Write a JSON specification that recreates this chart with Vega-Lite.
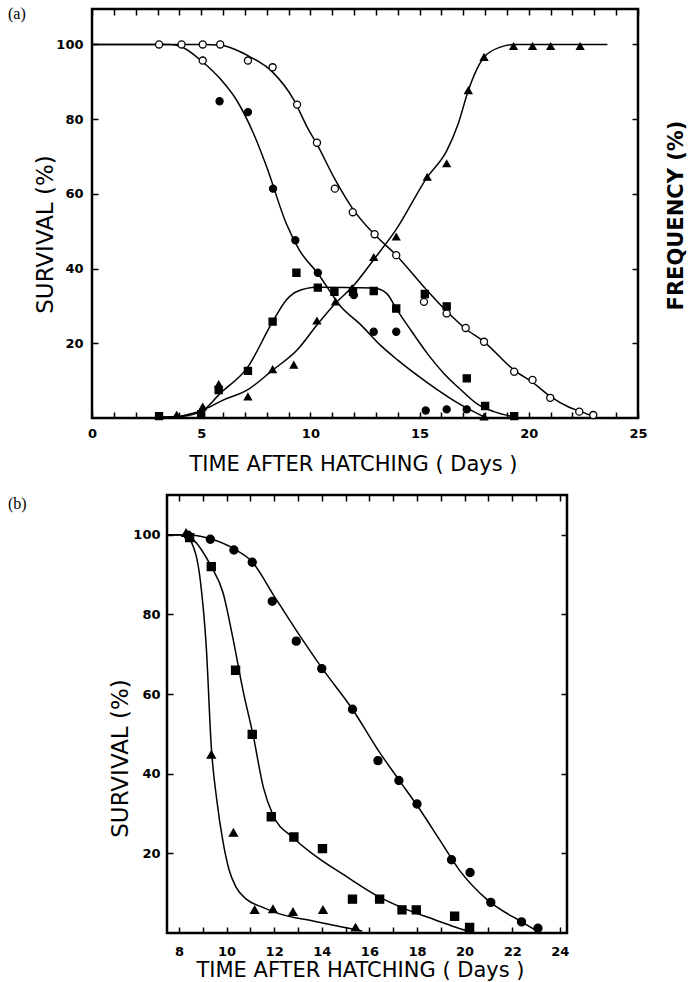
{
  "$schema": "https://vega.github.io/schema/vega-lite/v6.json",
  "padding": {"left": 6, "top": 5, "right": 0, "bottom": 0},
  "config": {
    "view": {"stroke": "black", "strokeWidth": 2.5},
    "font": "DejaVu Sans",
    "axis": {
      "domain": false, "grid": false, "tickColor": "black", "tickWidth": 1.5, "tickSize": -6,
      "labelFont": "DejaVu Sans", "labelFontSize": 13, "labelFontWeight": "bold", "labelColor": "black",
      "labelFlush": false, "labelOverlap": false,
      "titleFont": "DejaVu Sans", "titleFontWeight": "normal", "titleColor": "black", "titleBaseline": "alphabetic", "titleAlign": "center"
    }
  },
  "datasets": {
    "pointsA": [
      {"s": "open", "day": 3.07, "v": 100}, {"s": "open", "day": 4.1, "v": 100}, {"s": "open", "day": 5.07, "v": 100}, {"s": "open", "day": 5.87, "v": 100},
      {"s": "open", "day": 5.07, "v": 95.7}, {"s": "open", "day": 7.14, "v": 95.7}, {"s": "open", "day": 8.27, "v": 93.9}, {"s": "open", "day": 9.39, "v": 83.9},
      {"s": "open", "day": 10.3, "v": 73.7}, {"s": "open", "day": 11.12, "v": 61.4}, {"s": "open", "day": 11.94, "v": 55.1}, {"s": "open", "day": 12.94, "v": 49.2},
      {"s": "open", "day": 13.93, "v": 43.6}, {"s": "open", "day": 15.2, "v": 31.1}, {"s": "open", "day": 16.24, "v": 28}, {"s": "open", "day": 17.11, "v": 24.1},
      {"s": "open", "day": 17.95, "v": 20.4}, {"s": "open", "day": 19.33, "v": 12.4}, {"s": "open", "day": 20.17, "v": 10.2}, {"s": "open", "day": 20.98, "v": 5.4},
      {"s": "open", "day": 22.31, "v": 1.7}, {"s": "open", "day": 22.95, "v": 0.8},
      {"s": "filled", "day": 5.84, "v": 84.8}, {"s": "filled", "day": 7.14, "v": 81.9}, {"s": "filled", "day": 8.29, "v": 61.4}, {"s": "filled", "day": 9.31, "v": 47.6},
      {"s": "filled", "day": 10.34, "v": 38.9}, {"s": "filled", "day": 11.99, "v": 32.9}, {"s": "filled", "day": 12.9, "v": 23.1}, {"s": "filled", "day": 13.93, "v": 23.1},
      {"s": "filled", "day": 15.28, "v": 2.0}, {"s": "filled", "day": 16.24, "v": 2.3}, {"s": "filled", "day": 17.16, "v": 2.3},
      {"s": "square", "day": 3.07, "v": 0.5}, {"s": "square", "day": 5.0, "v": 1.0}, {"s": "square", "day": 5.8, "v": 7.5}, {"s": "square", "day": 7.14, "v": 12.6},
      {"s": "square", "day": 8.27, "v": 25.8}, {"s": "square", "day": 9.36, "v": 38.9}, {"s": "square", "day": 10.34, "v": 34.9}, {"s": "square", "day": 11.1, "v": 33.8},
      {"s": "square", "day": 11.95, "v": 33.8}, {"s": "square", "day": 12.9, "v": 34}, {"s": "square", "day": 13.93, "v": 29.3}, {"s": "square", "day": 15.24, "v": 33.2},
      {"s": "square", "day": 16.24, "v": 29.9}, {"s": "square", "day": 17.16, "v": 10.6}, {"s": "square", "day": 18.0, "v": 3.2}, {"s": "square", "day": 19.33, "v": 0.5},
      {"s": "triangle", "day": 3.88, "v": 0.8}, {"s": "triangle", "day": 5.07, "v": 3}, {"s": "triangle", "day": 5.8, "v": 9}, {"s": "triangle", "day": 7.14, "v": 5.7},
      {"s": "triangle", "day": 8.27, "v": 13}, {"s": "triangle", "day": 9.24, "v": 14.2}, {"s": "triangle", "day": 10.3, "v": 26}, {"s": "triangle", "day": 11.15, "v": 31.1},
      {"s": "triangle", "day": 11.91, "v": 34.7}, {"s": "triangle", "day": 12.9, "v": 43}, {"s": "triangle", "day": 13.93, "v": 48.5}, {"s": "triangle", "day": 15.35, "v": 64.5},
      {"s": "triangle", "day": 16.24, "v": 68.1}, {"s": "triangle", "day": 17.23, "v": 87.7}, {"s": "triangle", "day": 17.95, "v": 96.6}, {"s": "triangle", "day": 17.95, "v": 0.3},
      {"s": "triangle", "day": 19.3, "v": 99.5}, {"s": "triangle", "day": 20.17, "v": 99.5}, {"s": "triangle", "day": 21.0, "v": 99.5}, {"s": "triangle", "day": 22.35, "v": 99.5}
    ],
    "curvesA": [
      {"s": "open", "day": 0, "v": 100}, {"s": "open", "day": 3, "v": 100}, {"s": "open", "day": 5, "v": 100}, {"s": "open", "day": 5.9, "v": 99.8},
      {"s": "open", "day": 6.5, "v": 98.8}, {"s": "open", "day": 7.14, "v": 97}, {"s": "open", "day": 8.27, "v": 92.6}, {"s": "open", "day": 9.24, "v": 85.2},
      {"s": "open", "day": 9.85, "v": 77.9}, {"s": "open", "day": 10.3, "v": 73.3}, {"s": "open", "day": 11.07, "v": 64.5}, {"s": "open", "day": 11.99, "v": 55.6},
      {"s": "open", "day": 12.94, "v": 49.1}, {"s": "open", "day": 13.93, "v": 43.6}, {"s": "open", "day": 15.2, "v": 35.1}, {"s": "open", "day": 16.24, "v": 28.6},
      {"s": "open", "day": 17.11, "v": 23.9}, {"s": "open", "day": 17.95, "v": 20.4}, {"s": "open", "day": 19.33, "v": 12.8}, {"s": "open", "day": 20.25, "v": 9.2},
      {"s": "open", "day": 21.0, "v": 5.7}, {"s": "open", "day": 21.8, "v": 3.0}, {"s": "open", "day": 22.4, "v": 1.7}, {"s": "open", "day": 23.0, "v": 0.3},
      {"s": "filled", "day": 0, "v": 100}, {"s": "filled", "day": 3.5, "v": 100}, {"s": "filled", "day": 4.0, "v": 99.6}, {"s": "filled", "day": 5.07, "v": 95.3},
      {"s": "filled", "day": 5.87, "v": 90.8}, {"s": "filled", "day": 6.63, "v": 85}, {"s": "filled", "day": 7.4, "v": 76.1}, {"s": "filled", "day": 8.0, "v": 67.2},
      {"s": "filled", "day": 8.9, "v": 52}, {"s": "filled", "day": 9.5, "v": 44.9}, {"s": "filled", "day": 10.34, "v": 38.7}, {"s": "filled", "day": 11.4, "v": 29.8},
      {"s": "filled", "day": 12.3, "v": 25}, {"s": "filled", "day": 13.2, "v": 19.5}, {"s": "filled", "day": 14.0, "v": 15.5}, {"s": "filled", "day": 15.35, "v": 9.5},
      {"s": "filled", "day": 16.9, "v": 3.5}, {"s": "filled", "day": 17.95, "v": 0.3},
      {"s": "square", "day": 3.0, "v": 0.3}, {"s": "square", "day": 4.0, "v": 0.4}, {"s": "square", "day": 5.07, "v": 2.0}, {"s": "square", "day": 5.87, "v": 6.6},
      {"s": "square", "day": 7.14, "v": 13.7}, {"s": "square", "day": 8.27, "v": 25.8}, {"s": "square", "day": 8.9, "v": 31.6}, {"s": "square", "day": 9.36, "v": 33.8},
      {"s": "square", "day": 10.3, "v": 35}, {"s": "square", "day": 12.9, "v": 34.8}, {"s": "square", "day": 13.5, "v": 33.3}, {"s": "square", "day": 13.93, "v": 29.3},
      {"s": "square", "day": 14.6, "v": 23.5}, {"s": "square", "day": 15.35, "v": 17.3}, {"s": "square", "day": 16.1, "v": 12}, {"s": "square", "day": 16.9, "v": 7.5},
      {"s": "square", "day": 17.6, "v": 3.9}, {"s": "square", "day": 18.4, "v": 1.7}, {"s": "square", "day": 19.33, "v": 0.3},
      {"s": "triangle", "day": 3.88, "v": 0.3}, {"s": "triangle", "day": 5.07, "v": 2.1}, {"s": "triangle", "day": 6.0, "v": 4.8}, {"s": "triangle", "day": 7.14, "v": 7.6},
      {"s": "triangle", "day": 8.27, "v": 12.8}, {"s": "triangle", "day": 9.39, "v": 18.2}, {"s": "triangle", "day": 10.3, "v": 24.9}, {"s": "triangle", "day": 11.15, "v": 30.7},
      {"s": "triangle", "day": 12.0, "v": 35.6}, {"s": "triangle", "day": 12.94, "v": 42.7}, {"s": "triangle", "day": 13.93, "v": 50.5}, {"s": "triangle", "day": 15.35, "v": 64.5},
      {"s": "triangle", "day": 16.24, "v": 71.5}, {"s": "triangle", "day": 16.78, "v": 79}, {"s": "triangle", "day": 17.23, "v": 87.7}, {"s": "triangle", "day": 17.95, "v": 96.6},
      {"s": "triangle", "day": 18.7, "v": 99.3}, {"s": "triangle", "day": 19.33, "v": 100}, {"s": "triangle", "day": 23.6, "v": 100}
    ],
    "pointsB": [
      {"s": "filled", "day": 8.38, "v": 99.9}, {"s": "filled", "day": 9.32, "v": 98.9}, {"s": "filled", "day": 10.31, "v": 96.2}, {"s": "filled", "day": 11.08, "v": 93.1},
      {"s": "filled", "day": 11.92, "v": 83.3}, {"s": "filled", "day": 12.93, "v": 73.3}, {"s": "filled", "day": 14.0, "v": 66.4}, {"s": "filled", "day": 15.29, "v": 56.2},
      {"s": "filled", "day": 16.36, "v": 43.3}, {"s": "filled", "day": 17.24, "v": 38.3}, {"s": "filled", "day": 18.0, "v": 32.4}, {"s": "filled", "day": 19.45, "v": 18.4},
      {"s": "filled", "day": 20.23, "v": 15.2}, {"s": "filled", "day": 21.1, "v": 7.7}, {"s": "filled", "day": 22.39, "v": 2.8}, {"s": "filled", "day": 23.08, "v": 1.2},
      {"s": "square", "day": 8.45, "v": 99.3}, {"s": "square", "day": 9.36, "v": 92}, {"s": "square", "day": 10.38, "v": 66}, {"s": "square", "day": 11.08, "v": 49.9},
      {"s": "square", "day": 11.88, "v": 29.2}, {"s": "square", "day": 12.83, "v": 24.1}, {"s": "square", "day": 14.03, "v": 21.2}, {"s": "square", "day": 15.29, "v": 8.5},
      {"s": "square", "day": 16.43, "v": 8.5}, {"s": "square", "day": 17.37, "v": 5.8}, {"s": "square", "day": 17.97, "v": 5.8}, {"s": "square", "day": 19.58, "v": 4.2},
      {"s": "square", "day": 20.21, "v": 1.4},
      {"s": "triangle", "day": 8.3, "v": 100.5}, {"s": "triangle", "day": 9.36, "v": 44.8}, {"s": "triangle", "day": 10.29, "v": 25.2}, {"s": "triangle", "day": 11.18, "v": 5.8},
      {"s": "triangle", "day": 11.95, "v": 6.0}, {"s": "triangle", "day": 12.79, "v": 5.3}, {"s": "triangle", "day": 14.05, "v": 5.8}, {"s": "triangle", "day": 15.42, "v": 1.4}
    ],
    "curvesB": [
      {"s": "triangle", "day": 7.5, "v": 100}, {"s": "triangle", "day": 8.3, "v": 100}, {"s": "triangle", "day": 8.5, "v": 98.5}, {"s": "triangle", "day": 8.9, "v": 88.5},
      {"s": "triangle", "day": 9.15, "v": 71.8}, {"s": "triangle", "day": 9.36, "v": 46.8}, {"s": "triangle", "day": 9.6, "v": 33}, {"s": "triangle", "day": 9.85, "v": 23},
      {"s": "triangle", "day": 10.1, "v": 16}, {"s": "triangle", "day": 10.4, "v": 11.5}, {"s": "triangle", "day": 10.83, "v": 8.5}, {"s": "triangle", "day": 11.5, "v": 6.5},
      {"s": "triangle", "day": 12.23, "v": 4.8}, {"s": "triangle", "day": 13.63, "v": 3.0}, {"s": "triangle", "day": 15.03, "v": 1.3}, {"s": "triangle", "day": 15.7, "v": 0.5},
      {"s": "square", "day": 7.5, "v": 100}, {"s": "square", "day": 8.3, "v": 100}, {"s": "square", "day": 8.6, "v": 98.8}, {"s": "square", "day": 9.36, "v": 92},
      {"s": "square", "day": 9.85, "v": 85.5}, {"s": "square", "day": 10.27, "v": 74}, {"s": "square", "day": 10.69, "v": 61}, {"s": "square", "day": 11.13, "v": 49.3},
      {"s": "square", "day": 11.55, "v": 36.5}, {"s": "square", "day": 11.96, "v": 29.5}, {"s": "square", "day": 12.79, "v": 24}, {"s": "square", "day": 13.63, "v": 19.8},
      {"s": "square", "day": 15.03, "v": 14.2}, {"s": "square", "day": 16.43, "v": 9}, {"s": "square", "day": 17.6, "v": 5.8}, {"s": "square", "day": 18.72, "v": 3.4},
      {"s": "square", "day": 19.6, "v": 1.5}, {"s": "square", "day": 20.2, "v": 0.3},
      {"s": "filled", "day": 7.5, "v": 100}, {"s": "filled", "day": 8.3, "v": 100}, {"s": "filled", "day": 9.32, "v": 99}, {"s": "filled", "day": 10.31, "v": 96.5},
      {"s": "filled", "day": 11.08, "v": 93.2}, {"s": "filled", "day": 11.96, "v": 85}, {"s": "filled", "day": 12.93, "v": 76}, {"s": "filled", "day": 14.05, "v": 66.2},
      {"s": "filled", "day": 15.29, "v": 56.2}, {"s": "filled", "day": 16.38, "v": 45.8}, {"s": "filled", "day": 17.27, "v": 38.2}, {"s": "filled", "day": 18.1, "v": 31.2},
      {"s": "filled", "day": 18.94, "v": 23.5}, {"s": "filled", "day": 19.78, "v": 15.8}, {"s": "filled", "day": 20.92, "v": 8.5}, {"s": "filled", "day": 22.39, "v": 2.8},
      {"s": "filled", "day": 23.08, "v": 0.4}
    ]
  },
  "spacing": 17,
  "vconcat": [
    {
      "title": {"text": "(a)", "anchor": "start", "frame": "group", "orient": "top", "offset": 0, "dx": -84, "dy": 22, "baseline": "middle", "font": "Liberation Serif", "fontSize": 16, "fontWeight": "normal", "color": "black"},
      "width": 546,
      "height": 409,
      "resolve": {"axis": {"x": "independent", "y": "independent"}},
      "layer": [
        {
          "data": {"name": "curvesA"},
          "mark": {"type": "line", "interpolate": "monotone", "color": "black", "strokeWidth": 1.5},
          "encoding": {
            "x": {"field": "day", "type": "quantitative", "scale": {"domain": [0, 25], "nice": false, "zero": false},
                  "axis": {"orient": "bottom", "values": [0,1,2,3,4,5,6,7,8,9,10,11,12,13,14,15,16,17,18,19,20,21,22,23,24,25],
                           "labelExpr": "datum.value % 5 == 0 ? datum.label : ''", "labelPadding": 15,
                           "title": "TIME AFTER HATCHING ( Days )", "titleFontSize": 21, "titleX": 261, "titleY": 52}},
            "y": {"field": "v", "type": "quantitative", "scale": {"domain": [0, 109.5], "nice": false, "zero": true},
                  "axis": {"orient": "left", "values": [20, 40, 60, 80, 100], "labelPadding": 15,
                           "title": "SURVIVAL (%)", "titleFontSize": 23, "titleAngle": 270, "titleX": -40, "titleY": 225}},
            "detail": {"field": "s"}
          }
        },
        {
          "data": {"name": "pointsA"},
          "mark": {"type": "point", "opacity": 1, "stroke": "black", "strokeWidth": 1.3, "size": 50},
          "encoding": {
            "x": {"field": "day", "type": "quantitative",
                  "axis": {"orient": "top", "values": [0,1,2,3,4,5,6,7,8,9,10,11,12,13,14,15,16,17,18,19,20,21,22,23,24,25], "labels": false, "title": null}},
            "y": {"field": "v", "type": "quantitative",
                  "axis": {"orient": "right", "values": [20, 40, 60, 80, 100], "labels": false,
                           "title": "FREQUENCY (%)", "titleFontSize": 21, "titleFontWeight": "bold", "titleAngle": 270, "titleX": 44, "titleY": 206}},
            "shape": {"field": "s", "type": "nominal", "legend": null,
                      "scale": {"domain": ["open", "filled", "square", "triangle"], "range": ["circle", "circle", "square", "triangle-up"]}},
            "fill": {"field": "s", "type": "nominal", "legend": null,
                     "scale": {"domain": ["open", "filled", "square", "triangle"], "range": ["white", "black", "black", "black"]}}
          }
        }
      ]
    },
    {
      "title": {"text": "(b)", "anchor": "start", "frame": "group", "orient": "top", "offset": 0, "dx": -84, "dy": 27, "baseline": "middle", "font": "Liberation Serif", "fontSize": 16, "fontWeight": "normal", "color": "black"},
      "spacing": 0,
      "hconcat": [
        {
          "width": 15,
          "height": 10,
          "view": {"stroke": null},
          "data": {"values": [{"k": 1}]},
          "mark": {"type": "text"},
          "encoding": {"text": {"value": ""}}
        },
        {
          "width": 400,
          "height": 438,
          "resolve": {"axis": {"x": "independent", "y": "independent"}},
          "layer": [
            {
              "data": {"name": "curvesB"},
              "mark": {"type": "line", "interpolate": "monotone", "color": "black", "strokeWidth": 1.5},
              "encoding": {
                "x": {"field": "day", "type": "quantitative", "scale": {"domain": [7.5, 24.3], "nice": false, "zero": false},
                      "axis": {"orient": "bottom", "values": [8,9,10,11,12,13,14,15,16,17,18,19,20,21,22,23,24],
                               "labelExpr": "datum.value % 2 == 0 ? datum.label : ''", "labelPadding": 18,
                               "title": "TIME AFTER HATCHING ( Days )", "titleFontSize": 21, "titleX": 193, "titleY": 43}},
                "y": {"field": "v", "type": "quantitative", "scale": {"domain": [0, 110], "nice": false, "zero": true},
                      "axis": {"orient": "left", "values": [20, 40, 60, 80, 100], "labelPadding": 13,
                               "title": "SURVIVAL (%)", "titleFontSize": 23, "titleAngle": 270, "titleX": -40, "titleY": 263}},
                "detail": {"field": "s"}
              }
            },
            {
              "data": {"name": "pointsB"},
              "mark": {"type": "point", "opacity": 1, "stroke": "black", "strokeWidth": 1.3, "size": 65},
              "encoding": {
                "x": {"field": "day", "type": "quantitative",
                      "axis": {"orient": "top", "values": [8,9,10,11,12,13,14,15,16,17,18,19,20,21,22,23,24], "labels": false, "title": null}},
                "y": {"field": "v", "type": "quantitative",
                      "axis": {"orient": "right", "values": [20, 40, 60, 80, 100], "labels": false, "title": null}},
                "shape": {"field": "s", "type": "nominal", "legend": null,
                          "scale": {"domain": ["open", "filled", "square", "triangle"], "range": ["circle", "circle", "square", "triangle-up"]}},
                "fill": {"field": "s", "type": "nominal", "legend": null,
                         "scale": {"domain": ["open", "filled", "square", "triangle"], "range": ["white", "black", "black", "black"]}}
              }
            }
          ]
        }
      ]
    }
  ]
}
